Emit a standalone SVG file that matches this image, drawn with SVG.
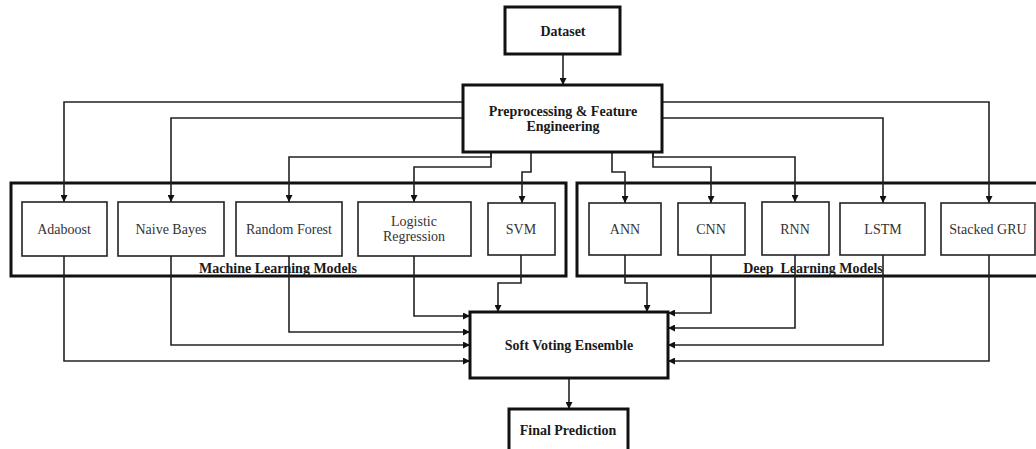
<svg xmlns="http://www.w3.org/2000/svg" width="1036" height="449" viewBox="0 0 1036 449">
  <style>
    .bg { fill: #ffffff; }
    .thick { fill: #ffffff; stroke: #111; stroke-width: 3; }
    .group { fill: none; stroke: #111; stroke-width: 3; }
    .model { fill: #ffffff; stroke: #222; stroke-width: 1.6; }
    .conn { fill: none; stroke: #222; stroke-width: 1.6; marker-end: url(#arrow); }
    .head { font-family: "Liberation Serif", "Times New Roman", serif; font-weight: bold; font-size: 14px; fill: #1a1a1a; text-anchor: middle; }
    .label { font-family: "Liberation Serif", "Times New Roman", serif; font-size: 14px; fill: #333; text-anchor: middle; }
  </style>
  <defs>
    <marker id="arrow" viewBox="0 0 10 10" refX="10" refY="5" markerWidth="7" markerHeight="7" markerUnits="userSpaceOnUse" orient="auto">
      <path d="M0,0 L10,5 L0,10 z" fill="#111"/>
    </marker>
  </defs>
  <rect class="bg" x="0" y="0" width="1036" height="449"/>

  <!-- model groups -->
  <g id="ml-group">
    <rect class="group" x="11" y="183" width="555" height="93"/>
    <text class="head" x="278" y="273">Machine Learning Models</text>
  </g>
  <g id="dl-group">
    <rect class="group" x="577" y="183" width="470" height="93"/>
    <text class="head" x="813" y="273" xml:space="preserve">Deep  Learning Models</text>
  </g>

  <!-- connectors -->
  <g id="connectors">
    <path class="conn" d="M563,54 V85"/>
    <!-- preprocessing to ML models -->
    <path class="conn" d="M463,102 H64 V202"/>
    <path class="conn" d="M463,118 H171 V202"/>
    <path class="conn" d="M491,152 V157 H289 V202"/>
    <path class="conn" d="M491,152 V167 H414 V202"/>
    <path class="conn" d="M531,152 V172 H522 V203"/>
    <!-- preprocessing to DL models -->
    <path class="conn" d="M612,152 V172 H625 V203"/>
    <path class="conn" d="M653,152 V167 H711 V203"/>
    <path class="conn" d="M653,152 V157 H795 V202"/>
    <path class="conn" d="M662,118 H883 V203"/>
    <path class="conn" d="M662,102 H989 V203"/>
    <!-- ML models to ensemble -->
    <path class="conn" d="M64,256 V361 H470"/>
    <path class="conn" d="M171,256 V345 H470"/>
    <path class="conn" d="M289,256 V332 H470"/>
    <path class="conn" d="M414,256 V316 H470"/>
    <path class="conn" d="M521,255 V283 H498 V312"/>
    <!-- DL models to ensemble -->
    <path class="conn" d="M625,255 V283 H647 V312"/>
    <path class="conn" d="M711,255 V313 H668"/>
    <path class="conn" d="M795,255 V328 H668"/>
    <path class="conn" d="M883,255 V345 H668"/>
    <path class="conn" d="M989,255 V361 H668"/>
    <!-- ensemble to prediction -->
    <path class="conn" d="M569,378 V409"/>
  </g>

  <g id="dataset">
    <rect class="thick" x="505" y="7" width="115" height="47"/>
    <text class="head" x="563" y="36">Dataset</text>
  </g>
  <g id="preprocessing">
    <rect class="thick" x="463" y="85" width="199" height="67"/>
    <text class="head" x="563" y="116">Preprocessing &amp; Feature</text>
    <text class="head" x="563" y="131">Engineering</text>
  </g>

  <g id="adaboost">
    <rect class="model" x="22" y="202" width="85" height="54"/>
    <text class="label" x="64" y="234">Adaboost</text>
  </g>
  <g id="naive-bayes">
    <rect class="model" x="118" y="202" width="106" height="54"/>
    <text class="label" x="171" y="234">Naive Bayes</text>
  </g>
  <g id="random-forest">
    <rect class="model" x="236" y="202" width="106" height="54"/>
    <text class="label" x="289" y="234">Random Forest</text>
  </g>
  <g id="logistic-regression">
    <rect class="model" x="358" y="202" width="113" height="54"/>
    <text class="label" x="414" y="226">Logistic</text>
    <text class="label" x="414" y="241">Regression</text>
  </g>
  <g id="svm">
    <rect class="model" x="488" y="203" width="67" height="52"/>
    <text class="label" x="521" y="234">SVM</text>
  </g>

  <g id="ann">
    <rect class="model" x="589" y="203" width="72" height="52"/>
    <text class="label" x="625" y="234">ANN</text>
  </g>
  <g id="cnn">
    <rect class="model" x="678" y="203" width="67" height="52"/>
    <text class="label" x="711" y="234">CNN</text>
  </g>
  <g id="rnn">
    <rect class="model" x="762" y="202" width="67" height="53"/>
    <text class="label" x="795" y="234">RNN</text>
  </g>
  <g id="lstm">
    <rect class="model" x="840" y="203" width="85" height="52"/>
    <text class="label" x="883" y="234">LSTM</text>
  </g>
  <g id="stacked-gru">
    <rect class="model" x="941" y="203" width="94" height="52"/>
    <text class="label" x="988" y="234">Stacked GRU</text>
  </g>

  <g id="soft-voting">
    <rect class="thick" x="470" y="312" width="198" height="66"/>
    <text class="head" x="569" y="350">Soft Voting Ensemble</text>
  </g>
  <g id="final-prediction">
    <rect class="thick" x="509" y="409" width="119" height="50"/>
    <text class="head" x="568" y="435">Final Prediction</text>
  </g>
</svg>
